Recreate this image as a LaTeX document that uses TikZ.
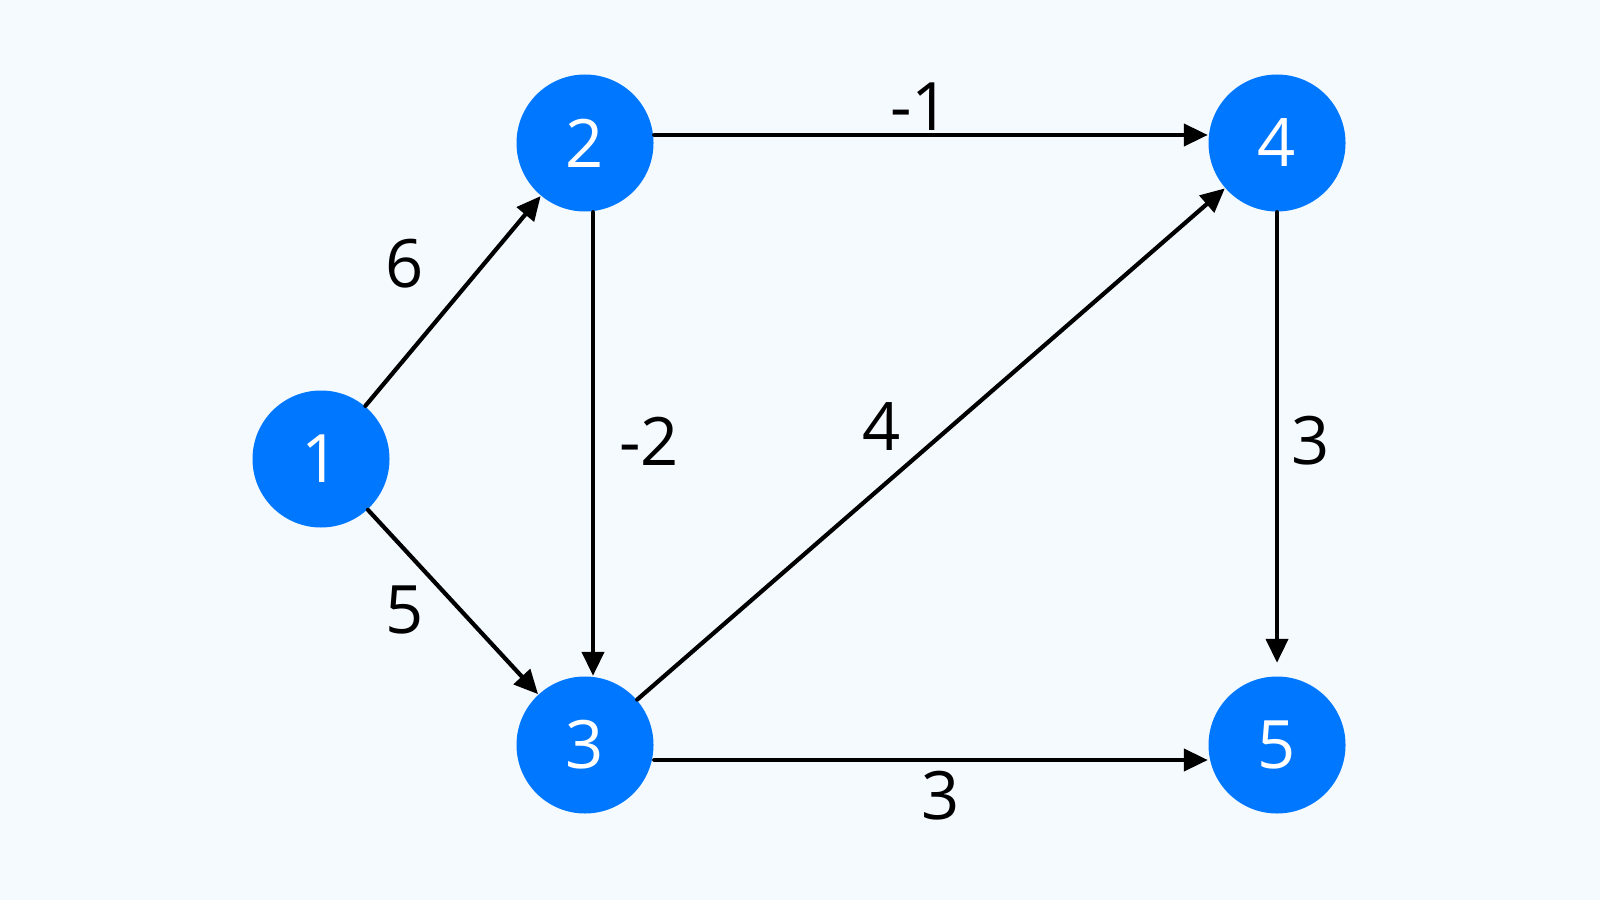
\documentclass[tikz,border=0pt]{standalone}
\usepackage{fontspec}
\setmainfont{Open Sans}
\usetikzlibrary{arrows.meta}
\definecolor{bgcol}{HTML}{F5FAFF}
\definecolor{nodeblue}{HTML}{0077FF}
\tikzset{
  vertex/.style={circle,fill=nodeblue,minimum size=1.37cm,inner sep=0pt,text=white,font=\fontsize{19}{19}\selectfont},
  edge/.style={line width=1.2pt,-{Triangle[length=0.24cm,width=0.22cm]}},
  weight/.style={font=\fontsize{19}{19}\selectfont}
}
\begin{document}
\begin{tikzpicture}[line cap=round,line join=round,x=1.0cm,y=1.0cm]
\fill[bgcol] (0,0) rectangle (16,9);
\useasboundingbox (0,0) rectangle (16,9);
\node[vertex] (n1) at (3.21,4.41) {1};
\node[vertex] (n2) at (5.85,7.57) {2};
\node[vertex] (n3) at (5.85,1.55) {3};
\node[vertex] (n4) at (12.77,7.57) {4};
\node[vertex] (n5) at (12.77,1.55) {5};

\draw[edge] (n1) -- (n2);
\draw[edge] (n1) -- (n3);
\draw[edge] ([yshift=0.08cm]n2.east) -- ([yshift=0.08cm]n4.west);
\draw[edge] ([xshift=0.08cm]n2.south) -- ([xshift=0.08cm]n3.north);
\draw[edge] (n3) -- (n4);
\draw[edge] (n4.south) -- ([yshift=0.13cm]n5.north);
\draw[edge] ([yshift=-0.15cm]n3.east) -- ([yshift=-0.15cm]n5.west);

\node[weight] (w12) at (4.05,6.36) {6};
\node[weight] (w13) at (4.05,2.90) {5};
\node[weight] (w24) at (9.20,7.93) {-1};
\node[weight] (w23) at (6.49,4.59) {-2};
\node[weight] (w34) at (8.82,4.73) {4};
\node[weight] (w45) at (13.11,4.59) {3};
\node[weight] (w35) at (9.41,1.04) {3};
\end{tikzpicture}
\end{document}
